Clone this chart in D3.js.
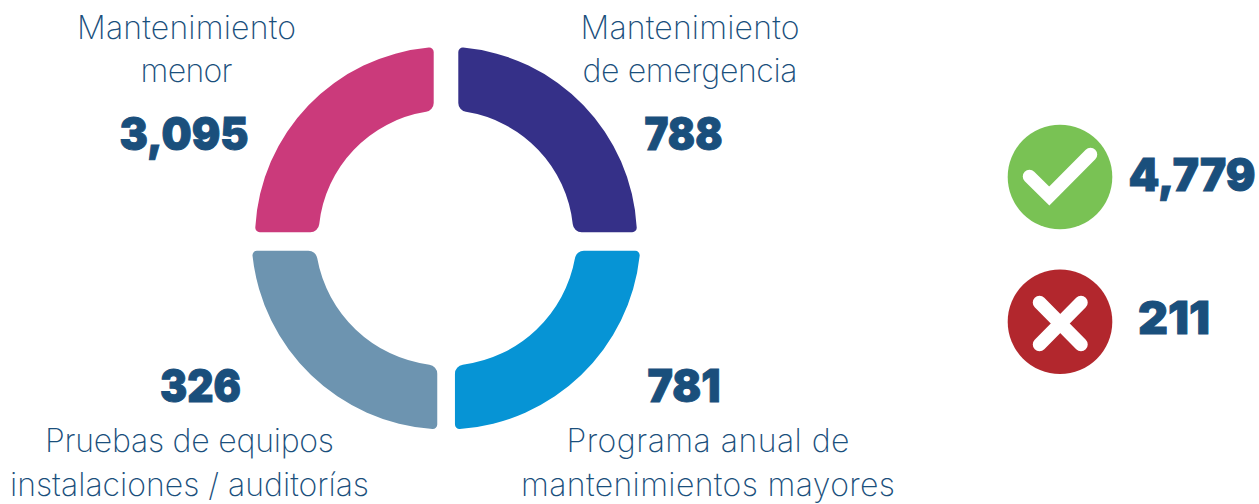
<!DOCTYPE html>
<html><head><meta charset="utf-8">
<script src="https://cdn.jsdelivr.net/npm/d3@7"></script>
<style>html,body{margin:0;background:#fff}svg{display:block}
.lab{font-family:Inter,sans-serif;font-weight:200;font-size:32px;fill:#1a4f7c;text-anchor:middle}
.num{font-family:Inter,sans-serif;font-weight:900;font-size:45px;fill:#1a4f7c;stroke:#1a4f7c;stroke-width:1px;text-anchor:middle}
</style></head><body>
<script>
const categories = ["Mantenimiento de emergencia","Programa anual de mantenimientos mayores","Pruebas de equipos instalaciones / auditorías","Mantenimiento menor"];
const values = [788, 781, 326, 3095];
const valueLabels = ["788","781","326","3,095"];
const labelLines = [["Mantenimiento","de emergencia"],["Programa anual de","mantenimientos mayores"],["Pruebas de equipos","instalaciones / auditorías"],["Mantenimiento","menor"]];
const colors = ["#353088","#0694d5","#6d94b0","#cb3a7b"];
const statusLabels = ["4,779","211"];
const statusColors = ["#79c254","#b2272d"];

const W=1259,H=504;
const svg=d3.select("body").append("svg").attr("width",W).attr("height",H);
const color=d3.scaleOrdinal(categories,colors);
// The four segments are equal quarters regardless of value
const pie=d3.pie().sort(null).value(()=>1);

function segment(sx,sy){
  const top=sy<0;
  const cx=top?446:446.1, cy=top?237.8:234.8, R=top?191:194.7, r=top?127.5:131;
  const ax=top?12.3:8.85, ay=top?5.6:15.9, k1=4.5,k2=9;
  const X=u=>cx+sx*u,Y=v=>cy+sy*v;
  const ang=(p,c)=>Math.atan2(Y(p[1])-Y(c[1]),X(p[0])-X(c[0]));
  const ccw=sx*sy>0;
  const F1=[ax+k1,0];F1[1]=Math.sqrt((R-k1)**2-F1[0]**2);
  const F2=[0,ay+k1];F2[0]=Math.sqrt((R-k1)**2-F2[1]**2);
  const F3=[0,ay+k2];F3[0]=Math.sqrt((r+k2)**2-F3[1]**2);
  const F4=[ax+k2,0];F4[1]=Math.sqrt((r+k2)**2-F4[0]**2);
  const O=[0,0];
  const sc=(p,s)=>[p[0]*s,p[1]*s];
  const T1=sc(F1,R/(R-k1)),T2=sc(F2,R/(R-k1)),T3=sc(F3,r/(r+k2)),T4=sc(F4,r/(r+k2));
  const p=d3.path();
  p.moveTo(X(ax),Y(F4[1]));
  p.lineTo(X(ax),Y(F1[1]));
  p.arc(X(F1[0]),Y(F1[1]),k1,ang([ax,F1[1]],F1),ang(T1,F1),ccw);
  p.arc(cx,cy,R,ang(T1,O),ang(T2,O),ccw);
  p.arc(X(F2[0]),Y(F2[1]),k1,ang(T2,F2),ang([F2[0],ay],F2),ccw);
  p.lineTo(X(F3[0]),Y(ay));
  p.arc(X(F3[0]),Y(F3[1]),k2,ang([F3[0],ay],F3),ang(T3,F3),ccw);
  p.arc(cx,cy,r,ang(T3,O),ang(T4,O),!ccw);
  p.arc(X(F4[0]),Y(F4[1]),k2,ang(T4,F4),ang([ax,F4[1]],F4),ccw);
  p.closePath();
  return p.toString();
}
const arcs=pie(values).map((d,i)=>{const m=(d.startAngle+d.endAngle)/2;return {...d,i,sx:Math.sin(m)>0?1:-1,sy:Math.cos(m)>0?-1:1};});
svg.selectAll("path.seg").data(arcs).join("path").attr("class","seg")
  .attr("fill",d=>color(categories[d.i])).attr("d",d=>segment(d.sx,d.sy));

// label layout per segment
const numX=[683.5,684,200.5,184], numY=[150,402,402,150], numW=[78,73,81,129];
const labX=[690,708,189.5,186.5], labY=[[39,82],[452,496],[452,496],[39,82]];
const labW=[[219,215],[283,374],[289,359],[219,92]];
labelLines.forEach((lines,i)=>{
  lines.forEach((t,j)=>svg.append("text").attr("class","lab").attr("x",labX[i]).attr("y",labY[i][j])
    .attr("textLength",labW[i][j]).attr("lengthAdjust","spacing").text(t));
});
svg.selectAll("text.num.v").data(valueLabels).join("text").attr("class","num v")
  .attr("x",(d,i)=>numX[i]).attr("y",(d,i)=>numY[i]).attr("textLength",(d,i)=>numW[i]).attr("lengthAdjust","spacingAndGlyphs").text(d=>d);

// status badges
const bY=[177,321.7], bX=[1192,1174], bBase=[191,334], bW=[127,72];
svg.selectAll("circle").data(statusColors).join("circle").attr("cx",1060).attr("cy",(d,i)=>bY[i]).attr("r",52.3).attr("fill",d=>d);
const line=d3.line();
const white=s=>s.attr("fill","none").attr("stroke","#fff").attr("stroke-width",13.5).attr("stroke-linecap","round").attr("stroke-linejoin","miter");
white(svg.append("path").attr("d",line([[1029.5,176.5],[1049.3,196],[1090.5,154.5]])));
white(svg.append("path").attr("d",line([[1039.5,302.5],[1081,344.5]])));
white(svg.append("path").attr("d",line([[1081,302.5],[1039.5,344.5]])));
svg.selectAll("text.s").data(statusLabels).join("text").attr("class","num s")
  .attr("x",(d,i)=>bX[i]).attr("y",(d,i)=>bBase[i]).attr("textLength",(d,i)=>bW[i]).attr("lengthAdjust","spacingAndGlyphs").text(d=>d);
</script></body></html>
